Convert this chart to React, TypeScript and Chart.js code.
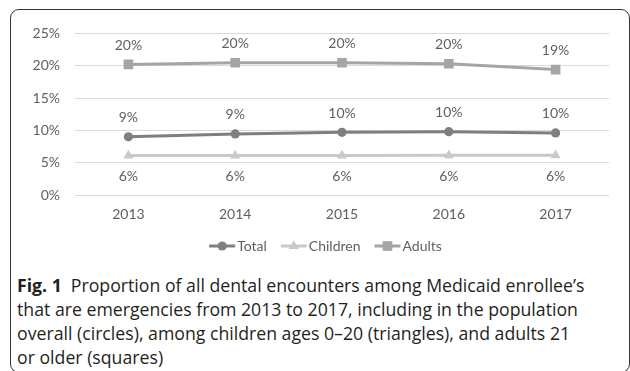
import React, { useEffect, useRef } from 'react';
import { Chart, registerables } from 'chart.js';

Chart.register(...registerables);

// ---- data ----
const years = ['2013', '2014', '2015', '2016', '2017'];
const seriesNames = ['Total', 'Children', 'Adults'];
const totalValues = [9.0, 9.45, 9.7, 9.8, 9.6];
const childrenValues = [6.1, 6.1, 6.1, 6.15, 6.15];
const adultsValues = [20.2, 20.45, 20.45, 20.3, 19.4];
const yTickValues = [0, 5, 10, 15, 20, 25];
const captionBold = 'Fig. 1';
const captionLines = [
  'Proportion of all dental encounters among Medicaid enrollee\u2019s',
  'that are emergencies from 2013 to 2017, including in the population',
  'overall (circles), among children ages 0\u201320 (triangles), and adults 21',
  'or older (squares)',
];

// ---- style ----
const colors = ['#7f7f7f', '#c9c9c9', '#a5a5a5'];
const pointStyles = ['circle', 'triangle', 'rect'];
const pointRadii = [4.6, 5.8, 6.8];
const labelOffsets = [-19, 21, -19];
const textColor = '#606060';
const FONT = 'Lato, "Open Sans", sans-serif';
const FS = 14;

function drawMarker(ctx: CanvasRenderingContext2D, style: string, x: number, y: number, r: number, color: string) {
  ctx.fillStyle = color;
  ctx.beginPath();
  if (style === 'circle') {
    ctx.arc(x, y, r, 0, Math.PI * 2);
  } else if (style === 'rect') {
    const s = Math.SQRT1_2 * r;
    ctx.rect(x - s, y - s, 2 * s, 2 * s);
  } else {
    const a = Math.PI / 3;
    ctx.moveTo(x, y - r);
    ctx.lineTo(x + Math.sin(2 * a) * r, y + Math.cos(a) * r);
    ctx.lineTo(x - Math.sin(2 * a) * r, y + Math.cos(a) * r);
    ctx.closePath();
  }
  ctx.fill();
}

const valueLabelPlugin = {
  id: 'valueLabels',
  afterDatasetsDraw(chart: any) {
    const ctx: CanvasRenderingContext2D = chart.ctx;
    ctx.save();
    ctx.font = `${FS}px ${FONT}`;
    ctx.fillStyle = textColor;
    ctx.textAlign = 'center';
    ctx.textBaseline = 'middle';
    chart.data.datasets.forEach((ds: any, i: number) => {
      const meta = chart.getDatasetMeta(i);
      meta.data.forEach((pt: any, j: number) => {
        ctx.fillText(Math.round(ds.data[j]) + '%', pt.x, pt.y + labelOffsets[i]);
      });
    });
    ctx.restore();
  },
};

const customLegendPlugin = {
  id: 'customLegend',
  afterDraw(chart: any) {
    const ctx: CanvasRenderingContext2D = chart.ctx;
    const opts = chart.options.plugins.customLegend;
    ctx.save();
    ctx.font = `${FS}px ${FONT}`;
    const symW = 26;
    const gap = 2;
    const spacing = 14;
    const items = chart.data.datasets.map((ds: any, i: number) => ({
      text: ds.label,
      w: symW + gap + ctx.measureText(ds.label).width,
      i,
    }));
    const total = items.reduce((s: number, it: any) => s + it.w, 0) + spacing * (items.length - 1);
    let x = opts.centerX - total / 2;
    const y = opts.y;
    items.forEach((it: any) => {
      const c = colors[it.i];
      ctx.strokeStyle = c;
      ctx.lineWidth = 3;
      ctx.beginPath();
      ctx.moveTo(x, y);
      ctx.lineTo(x + symW, y);
      ctx.stroke();
      drawMarker(ctx, pointStyles[it.i], x + symW / 2, y, pointRadii[it.i], c);
      ctx.fillStyle = textColor;
      ctx.textAlign = 'left';
      ctx.textBaseline = 'middle';
      ctx.fillText(it.text, x + symW + gap, y);
      x += it.w + spacing;
    });
    ctx.restore();
  },
};

function LineChart() {
  const ref = useRef<HTMLCanvasElement | null>(null);
  useEffect(() => {
    if (!ref.current) return;
    const values = [totalValues, childrenValues, adultsValues];
    const chart = new Chart(ref.current, {
      type: 'line',
      data: {
        labels: years,
        datasets: seriesNames.map((name, i) => ({
          label: name,
          data: values[i],
          borderColor: colors[i],
          backgroundColor: colors[i],
          borderWidth: 3,
          pointStyle: pointStyles[i] as any,
          pointRadius: pointRadii[i],
          pointBackgroundColor: colors[i],
          pointBorderColor: colors[i],
          pointBorderWidth: 0,
          tension: 0,
          fill: false,
        })),
      },
      options: {
        animation: false,
        responsive: false,
        maintainAspectRatio: false,
        devicePixelRatio: 1,
        layout: { padding: { top: 23, right: 20, bottom: 36.5, left: 0 } },
        plugins: {
          legend: { display: false },
          tooltip: { enabled: false },
          customLegend: { centerX: 325.5 - 11, y: 236 },
        } as any,
        scales: {
          x: {
            offset: true,
            grid: { display: false, drawTicks: false },
            border: { display: false },
            ticks: { color: textColor, font: { family: FONT, size: FS }, padding: 11 },
            afterFit: (s: any) => { s.height = 33.5; },
          },
          y: {
            min: 0,
            max: 25,
            grid: { color: '#d9d9d9', lineWidth: 1, drawTicks: false },
            border: { display: false },
            afterBuildTicks: (s: any) => { s.ticks = yTickValues.map((v) => ({ value: v })); },
            ticks: {
              color: textColor,
              font: { family: FONT, size: FS },
              padding: 15,
              callback: (v: any) => v + '%',
            },
            afterFit: (s: any) => { s.width = 64; },
          },
        },
      },
      plugins: [valueLabelPlugin, customLegendPlugin],
    });
    return () => chart.destroy();
  }, []);
  return <canvas ref={ref} width={618} height={255} style={{ position: 'absolute', left: 11, top: 10, width: 618, height: 255 }} />;
}

export default function App() {
  return (
    <div style={{ position: 'absolute', left: 0, top: 0, width: 630, height: 371, overflow: 'hidden', background: '#fff' }}>
      <div
        style={{
          position: 'absolute',
          left: 10,
          top: 9,
          width: 620,
          height: 364,
          boxSizing: 'border-box',
          border: '1px solid #333',
          borderRadius: 9,
        }}
      />
      <LineChart />
      <div
        style={{
          position: 'absolute',
          left: 17,
          top: 273,
          fontFamily: '"Open Sans", sans-serif',
          fontSize: 17.7,
          lineHeight: '24px',
          color: '#231f20',
          whiteSpace: 'nowrap',
        }}
      >
        {captionLines.map((line, i) => (
          <div key={i}>
            {i === 0 && <b style={{ fontWeight: 700, marginRight: 9 }}>{captionBold}</b>}
            {line}
          </div>
        ))}
      </div>
    </div>
  );
}
